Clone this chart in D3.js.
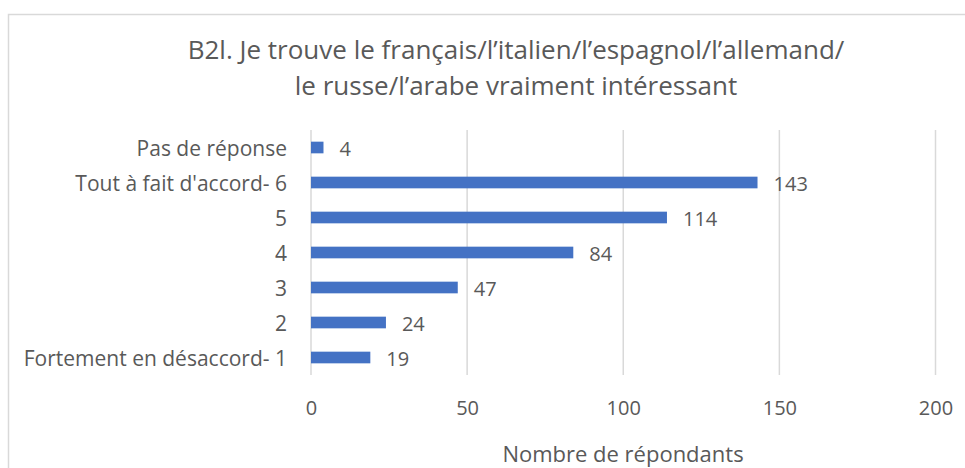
<!DOCTYPE html>
<html>
<head>
<meta charset="utf-8">
<script src="https://cdn.jsdelivr.net/npm/d3@7"></script>
<style>
  body { margin: 0; background: #fff; }
  text { font-family: "Open Sans", "Noto Sans", sans-serif; fill: #595959; }
</style>
</head>
<body>
<svg id="chart"></svg>
<script>
let width = 965, height = 468;

// categories from top to bottom, as in the reference
var categories = ["Pas de réponse", "Tout à fait d'accord- 6", "5", "4", "3", "2", "Fortement en désaccord- 1"];
var counts = [4, 143, 114, 84, 47, 24, 19];
var xTicks = [0, 50, 100, 150, 200];
var titleLines = ["B2l. Je trouve le français/l’italien/l’espagnol/l’allemand/", "le russe/l’arabe vraiment intéressant"];
var xTitle = "Nombre de répondants";

var data = categories.map((c, i) => ({ cat: c, value: counts[i] }));

let svg = d3.select("#chart")
  .attr("width", width)
  .attr("height", height);

// chart border (right and bottom edges fall outside the picture)
svg.append("rect")
  .attr("x", 8.5).attr("y", 14.5)
  .attr("width", 970).attr("height", 470)
  .attr("fill", "none")
  .attr("stroke", "#d9d9d9")
  .attr("stroke-width", 1.5);

var x = d3.scaleLinear()
  .domain([0, 200])
  .range([311, 935.5]);

var y = d3.scaleBand()
  .domain(categories)
  .range([130, 375])
  .paddingInner(2 / 3)
  .paddingOuter(1 / 3);

// title
svg.append("g")
  .selectAll("text")
  .data(titleLines)
  .join("text")
  .attr("x", 516)
  .attr("y", (d, i) => 49 + i * 36)
  .attr("text-anchor", "middle")
  .attr("dominant-baseline", "central")
  .attr("font-size", 26)
  .text(d => d);

// gridlines
svg.append("g")
  .selectAll("line")
  .data(xTicks)
  .join("line")
  .attr("x1", d => x(d)).attr("x2", d => x(d))
  .attr("y1", 130).attr("y2", 375)
  .attr("stroke", "#d9d9d9")
  .attr("stroke-width", 1.5);

// x axis tick labels
svg.append("g")
  .attr("transform", "translate(0,407)")
  .call(d3.axisBottom(x).tickValues(xTicks).tickSize(0).tickPadding(0))
  .call(g => g.select(".domain").remove())
  .call(g => g.selectAll("text")
    .attr("dy", null)
    .attr("y", 0)
    .attr("dominant-baseline", "central")
    .attr("font-size", 20)
    .attr("font-family", null)
    .attr("fill", "#595959"));

// category labels
svg.append("g")
  .attr("transform", "translate(287,0)")
  .call(d3.axisLeft(y).tickSize(0).tickPadding(0))
  .call(g => g.select(".domain").remove())
  .call(g => g.selectAll("text")
    .attr("dy", null)
    .attr("x", 0)
    .attr("dominant-baseline", "central")
    .attr("font-size", 21)
    .attr("font-family", null)
    .attr("fill", "#595959"));

// bars
svg.append("g")
  .selectAll("rect")
  .data(data)
  .join("rect")
  .attr("x", x(0))
  .attr("y", d => y(d.cat))
  .attr("width", d => x(d.value) - x(0))
  .attr("height", y.bandwidth())
  .attr("fill", "#4472c4");

// value labels
svg.append("g")
  .selectAll("text")
  .data(data)
  .join("text")
  .attr("x", d => x(d.value) + 16)
  .attr("y", d => y(d.cat) + y.bandwidth() / 2 + 1)
  .attr("dominant-baseline", "central")
  .attr("font-size", 20)
  .text(d => d.value);

// axis title
svg.append("text")
  .attr("x", 623)
  .attr("y", 453)
  .attr("text-anchor", "middle")
  .attr("dominant-baseline", "central")
  .attr("font-size", 22)
  .text(xTitle);
</script>
</body>
</html>
